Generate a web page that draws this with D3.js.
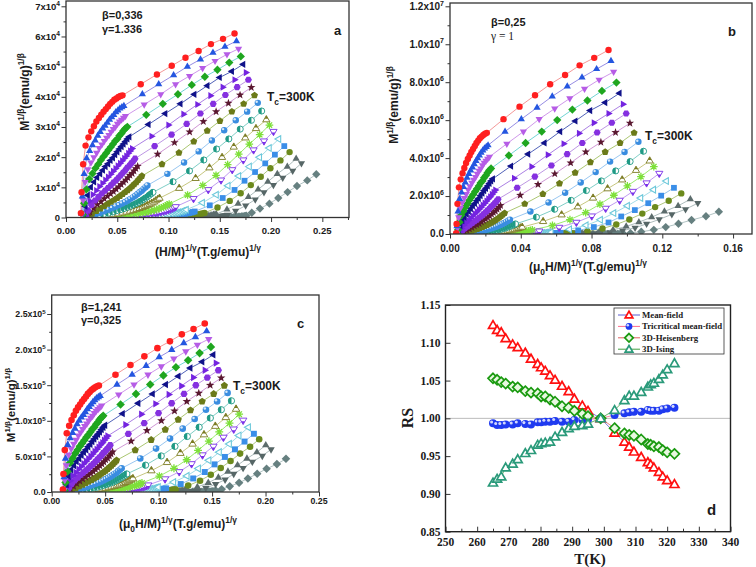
<!DOCTYPE html>
<html><head><meta charset="utf-8">
<script src="https://cdnjs.cloudflare.com/ajax/libs/d3/7.8.5/d3.min.js"></script>
<style>body{margin:0;background:#fff}svg{display:block}</style>
</head><body><svg id="c" width="756" height="567"></svg>
<script>
// ===================== DATA =====================
// Applied field (T) of every isotherm point
const fieldsT = [0.05,0.10,0.15,0.20,0.25,0.30,0.35,0.40,0.45,0.50,0.55,0.60,0.65,0.70,0.75,0.80,0.85,0.90,0.95,1.00,1.5,2.0,2.5,3.0,3.5,4.0,4.5,5.0];
// Magnetization M (emu/g) of each isotherm (low T -> high T)
const M01 = [14.3,27.0,35.5,39.6,41.2,42.3,43.2,44.0,44.6,45.1,45.6,46.0,46.4,46.8,47.1,47.4,47.6,47.8,47.95,48.05,49.6,50.9,52.0,53.0,53.8,54.6,55.2,55.8];
const M02 = [13.6,25.3,33.0,36.9,38.5,39.7,40.6,41.5,42.2,42.8,43.3,43.8,44.3,44.7,45.1,45.5,45.8,46.1,46.3,46.5,48.2,49.6,50.8,51.9,52.8,53.6,54.3,54.95];
const M03 = [12.8,23.6,30.6,34.2,35.9,37.1,38.1,39.1,39.8,40.5,41.1,41.6,42.2,42.7,43.1,43.6,44.0,44.3,44.6,44.9,46.7,48.2,49.6,50.7,51.7,52.6,53.4,54.06];
const M04 = [12.0,21.9,28.1,31.5,33.1,34.5,35.5,36.5,37.3,38.0,38.7,39.3,39.9,40.5,40.9,41.5,41.9,42.4,42.8,43.1,45.1,46.8,48.2,49.5,50.6,51.5,52.4,53.15];
const M05 = [11.3,20.2,25.8,28.9,30.6,32.0,33.0,34.0,34.9,35.6,36.4,37.0,37.7,38.3,38.9,39.4,39.9,40.4,40.9,41.3,43.5,45.3,46.8,48.2,49.4,50.5,51.3,52.19];
const M06 = [10.4,18.4,23.2,26.1,27.7,29.1,30.2,31.2,32.1,32.9,33.7,34.4,35.1,35.7,36.3,36.9,37.4,38.0,38.5,39.0,41.4,43.4,45.2,46.7,48.0,49.2,50.2,51.14];
const M07 = [9.6,16.7,20.9,23.4,25.1,26.5,27.6,28.6,29.5,30.4,31.1,31.9,32.6,33.3,33.9,34.6,35.1,35.7,36.2,36.8,39.5,41.7,43.6,45.3,46.8,48.1,49.2,50.2];
const M08 = [8.9,15.2,18.8,21.2,22.8,24.3,25.4,26.4,27.3,28.2,29.0,29.8,30.5,31.2,31.9,32.6,33.1,33.8,34.4,35.0,37.8,40.2,42.2,44.0,45.6,46.9,48.1,49.16];
const M09 = [8.0,13.5,16.5,18.6,20.2,21.6,22.7,23.7,24.6,25.5,26.3,27.1,27.8,28.5,29.2,29.9,30.5,31.2,31.8,32.4,35.5,38.1,40.4,42.4,44.1,45.6,46.8,48.05];
const M10 = [6.9,11.7,14.3,16.2,17.6,18.9,20.0,20.9,21.8,22.6,23.4,24.2,24.9,25.6,26.3,27.0,27.6,28.3,28.9,29.5,33.0,35.9,38.4,40.6,42.5,44.2,45.6,46.95];
const M11 = [5.9,10.1,12.4,14.1,15.5,16.7,17.6,18.5,19.4,20.2,21.0,21.7,22.4,23.1,23.8,24.5,25.1,25.8,26.4,27.0,30.7,33.8,36.5,38.9,40.9,42.7,44.2,45.7];
const M12 = [5.1,8.6,10.7,12.2,13.4,14.5,15.4,16.3,17.1,17.9,18.6,19.3,20.0,20.7,21.3,22.0,22.6,23.3,23.9,24.5,28.5,31.7,34.6,37.1,39.3,41.1,42.8,44.3];
const M13 = [4.2,7.1,8.9,10.2,11.2,12.2,13.0,13.8,14.5,15.2,15.9,16.6,17.2,17.9,18.5,19.1,19.7,20.3,20.9,21.5,25.9,29.5,32.6,35.4,37.8,39.9,41.7,43.4];
const M14 = [3.6,6.1,7.7,8.9,9.9,10.8,11.5,12.3,13.0,13.7,14.3,15.0,15.6,16.2,16.8,17.4,18.0,18.6,19.2,19.8,24.3,28.0,31.2,34.1,36.5,38.7,40.5,42.27];
const M15 = [2.9,5.0,6.4,7.4,8.3,9.1,9.8,10.4,11.1,11.7,12.3,13.0,13.5,14.1,14.7,15.3,15.8,16.4,17.0,17.5,22.2,26.0,29.4,32.4,34.9,37.1,39.1,40.87];
const M16 = [2.5,4.2,5.4,6.4,7.2,7.9,8.6,9.2,9.8,10.4,11.0,11.6,12.1,12.7,13.3,13.8,14.4,14.9,15.5,16.0,20.7,24.6,27.9,31.0,33.5,35.7,37.7,39.5];
const M17 = [2.0,3.5,4.6,5.4,6.1,6.8,7.4,8.0,8.6,9.1,9.7,10.3,10.8,11.3,11.9,12.4,12.9,13.5,14.0,14.5,19.3,23.2,26.6,29.6,32.2,34.5,36.4,38.25];
const M18 = [1.7,2.9,3.8,4.5,5.2,5.8,6.3,6.9,7.4,8.0,8.5,9.0,9.5,10.0,10.5,11.0,11.5,12.0,12.5,13.0,17.8,21.7,25.1,28.1,30.7,33.0,34.9,36.8];
const M19 = [1.3,2.4,3.1,3.8,4.4,5.0,5.5,6.0,6.5,7.0,7.5,8.0,8.4,8.9,9.4,9.9,10.4,10.8,11.3,11.8,16.6,20.5,23.9,27.0,29.6,31.9,33.8,35.7];
const M20 = [1.03,1.82,2.47,3.04,3.55,4.04,4.50,4.95,5.40,5.84,6.28,6.72,7.15,7.59,8.03,8.46,8.90,9.33,9.77,10.2,14.7,18.5,21.7,24.6,27.1,29.3,31.1,32.9];
const isotherms = [M01,M02,M03,M04,M05,M06,M07,M08,M09,M10,M11,M12,M13,M14,M15,M16,M17,M18,M19,M20];

// Exponents with which each panel's axes M^(1/beta), (H/M)^(1/gamma) were computed
const expA = {beta: 0.365, gamma: 1.336};
const expB = {beta: 0.25, gamma: 1.0};
const expC = {beta: 0.325, gamma: 1.241};

// Tick values and labels
const ticksAX = [0,0.05,0.10,0.15,0.20,0.25];
const ticksAY = [0,1e4,2e4,3e4,4e4,5e4,6e4,7e4];
const labelsAY = [["0",""],["1x10","4"],["2x10","4"],["3x10","4"],["4x10","4"],["5x10","4"],["6x10","4"],["7x10","4"]];
const ticksBX = [0,0.04,0.08,0.12,0.16];
const ticksBY = [0,2e6,4e6,6e6,8e6,1e7,1.2e7];
const labelsBY = [["0.0",""],["2.0x10","6"],["4.0x10","6"],["6.0x10","6"],["8.0x10","6"],["1.0x10","7"],["1.2x10","7"]];
const ticksCX = [0,0.05,0.10,0.15,0.20,0.25];
const ticksCY = [0,5e4,1e5,1.5e5,2e5,2.5e5];
const labelsCY = [["0.0",""],["5.0x10","4"],["1.0x10","5"],["1.5x10","5"],["2.0x10","5"],["2.5x10","5"]];

// Panel d: relative slope RS vs T
const tempK = [265,266.3,267.6,269,271.2,272.8,275.2,277,279.1,280.2,281.5,283,284.6,286.8,288.9,290.7,293.2,295,299,303.4,306.5,308,309.5,311.8,313.9,314.8,315.8,317.4,318.6,320,322.3];
const rsMeanField = [1.1235,1.117,1.114,1.106,1.098,1.094,1.087,1.079,1.072,1.0675,1.063,1.057,1.051,1.043,1.036,1.026,1.017,1.010,1.000,0.981,0.969,0.9625,0.956,0.949,0.942,0.939,0.935,0.929,0.923,0.918,0.913];
const rsTricritical = [0.9934,0.9912,0.9912,0.992,0.992,0.9934,0.9925,0.992,0.9947,0.9947,0.9956,0.9956,0.9965,0.9956,0.9956,0.9978,0.9978,0.9985,1.000,1.0044,1.0066,1.008,1.0088,1.0088,1.011,1.010,1.010,1.010,1.012,1.0132,1.014];
const rsHeisenberg = [1.053,1.051,1.048,1.046,1.042,1.041,1.036,1.034,1.033,1.029,1.029,1.025,1.022,1.016,1.014,1.010,1.006,1.003,1.000,0.987,0.980,0.978,0.977,0.972,0.966,0.965,0.963,0.962,0.958,0.955,0.953];
const rsIsing = [0.915,0.920,0.923,0.935,0.940,0.946,0.954,0.958,0.965,0.967,0.968,0.969,0.976,0.982,0.987,0.990,0.991,0.993,1.000,1.011,1.024,1.030,1.030,1.035,1.042,1.045,1.047,1.052,1.058,1.065,1.073];
const modelNames = ["Mean-field","Tricritical mean-field","3D-Heisenberg","3D-Ising"];
const ticksDX = [250,260,270,280,290,300,310,320,330,340];
const ticksDY = [0.85,0.90,0.95,1.00,1.05,1.10,1.15];

// ===================== STYLES =====================
const isoStyles = [
 {shape:'circle', fill:'#ff1f1f', line:'#f28c8c'},
 {shape:'tri-up', fill:'#2456e0', line:'#8a7fe0'},
 {shape:'tri-down', fill:'#b65ce6', line:'#c98be8'},
 {shape:'diamond', fill:'#1fa61f', line:'#62cfcf'},
 {shape:'tri-left', fill:'#10128a', line:'#3c4fb0'},
 {shape:'tri-right', fill:'#7424e0', line:'#a070e0'},
 {shape:'hexagon', fill:'#8530e0', line:'#b58ae0'},
 {shape:'star', fill:'#5a1830', line:'#c98ad0'},
 {shape:'pentagon', fill:'#6b7a18', line:'#a0c060'},
 {shape:'sphere', fill:'#3a8de0', line:'#8cc0ee'},
 {shape:'half-circle', fill:'#1f9a85', line:'#70c8c0'},
 {shape:'half-tri-up', fill:'#7a7a20', line:'#c0c070'},
 {shape:'asterisk', fill:'#7ee03a', line:'#90e860'},
 {shape:'half-tri-down', fill:'#7a30e8', line:'#b890ee'},
 {shape:'open-tri-left', fill:'#6cc8da', line:'#98d8e4'},
 {shape:'square', fill:'#3a8ee8', line:'#8abce8'},
 {shape:'circle', fill:'#6c8a1c', line:'#a8c070'},
 {shape:'tri-up', fill:'#5c6c6c', line:'#a4b4b4'},
 {shape:'tri-down', fill:'#566666', line:'#a4b4b4'},
 {shape:'diamond', fill:'#668080', line:'#a8bcbc'}
];
const modelStyles = [
 {shape:'open-tri-up', fill:'#ff1010', line:'#5a5ad0'},
 {shape:'sphere', fill:'#1f3af0', line:'#ff6a8a'},
 {shape:'open-diamond', fill:'#1a9a10', line:'#e06060'},
 {shape:'open-tri-up', fill:'#2a9a7a', line:'#40a040'}
];

// ===================== HELPERS =====================
const svg = d3.select('#c');
svg.append('rect').attr('width',756).attr('height',567).attr('fill','#fff');
const defs = svg.append('defs');
const SANS = 'Arial, "Liberation Sans", sans-serif';
const SERIF = '"Times New Roman", "Liberation Serif", serif';

function rich(g, x, y, parts, o) {
  const size = o.size;
  const t = g.append('text').attr('x',x).attr('y',y)
    .attr('font-family', o.family || SANS).attr('font-weight', o.weight || 'bold')
    .attr('font-size', size).attr('text-anchor', o.anchor || 'start').attr('fill', o.color || '#1a1a1a');
  if (o.transform) t.attr('transform', o.transform);
  let shift = 0;
  parts.forEach(p => {
    const s = p[0], kind = p[1];
    if (!s) return;
    const target = kind === 'sup' ? -size*0.42 : kind === 'sub' ? size*0.3 : 0;
    t.append('tspan').attr('dy', target - shift).attr('font-size', kind ? size*0.7 : size).text(s);
    shift = target;
  });
  return t;
}

function poly(n, R, rot) {
  const pts = [];
  for (let k=0;k<n;k++){ const a = rot + k*2*Math.PI/n; pts.push([R*Math.cos(a), R*Math.sin(a)]); }
  return pts;
}
function pts2str(pts, cx, cy){ return pts.map(p=>(cx+p[0]).toFixed(2)+','+(cy+p[1]).toFixed(2)).join(' '); }
const UP = -Math.PI/2;

function marker(g, cx, cy, st, r) {
  const c = st.fill;
  switch (st.shape) {
    case 'circle': g.append('circle').attr('cx',cx).attr('cy',cy).attr('r',r).attr('fill',c); break;
    case 'sphere':
      g.append('circle').attr('cx',cx).attr('cy',cy).attr('r',r).attr('fill',c);
      g.append('circle').attr('cx',cx-r*0.35).attr('cy',cy-r*0.35).attr('r',r*0.38).attr('fill','#fff').attr('opacity',0.8); break;
    case 'tri-up': case 'tri-down': case 'tri-left': case 'tri-right': {
      const rot = {'tri-up':UP,'tri-down':Math.PI/2,'tri-left':Math.PI,'tri-right':0}[st.shape];
      g.append('polygon').attr('points',pts2str(poly(3,r*1.3,rot),cx,cy)).attr('fill',c); break; }
    case 'open-tri-left':
      g.append('polygon').attr('points',pts2str(poly(3,r*1.2,Math.PI),cx,cy)).attr('fill','#fff').attr('stroke',c).attr('stroke-width',1.1); break;
    case 'diamond': g.append('polygon').attr('points',pts2str(poly(4,r*1.3,UP),cx,cy)).attr('fill',c); break;
    case 'square': g.append('rect').attr('x',cx-r*0.9).attr('y',cy-r*0.9).attr('width',r*1.8).attr('height',r*1.8).attr('fill',c); break;
    case 'hexagon': g.append('polygon').attr('points',pts2str(poly(6,r*1.1,0),cx,cy)).attr('fill',c); break;
    case 'pentagon': g.append('polygon').attr('points',pts2str(poly(5,r*1.15,UP),cx,cy)).attr('fill',c); break;
    case 'star': {
      const pts=[]; for(let k=0;k<10;k++){const a=UP+k*Math.PI/5; const R=k%2?r*0.55:r*1.35; pts.push([R*Math.cos(a),R*Math.sin(a)]);}
      g.append('polygon').attr('points',pts2str(pts,cx,cy)).attr('fill',c); break; }
    case 'asterisk': {
      let d=''; for(let k=0;k<4;k++){const a=k*Math.PI/4; const dx=r*1.2*Math.cos(a), dy=r*1.2*Math.sin(a); d+=`M${cx-dx},${cy-dy}L${cx+dx},${cy+dy}`;}
      g.append('path').attr('d',d).attr('stroke',c).attr('stroke-width',1.3); break; }
    case 'half-circle':
      g.append('circle').attr('cx',cx).attr('cy',cy).attr('r',r*0.95).attr('fill','#fff').attr('stroke',c).attr('stroke-width',0.9);
      g.append('path').attr('d',`M${cx},${cy-r}A${r},${r} 0 0 0 ${cx},${cy+r}Z`).attr('fill',c); break;
    case 'half-tri-up': {
      const P = poly(3,r*1.3,UP);
      g.append('polygon').attr('points',pts2str(P,cx,cy)).attr('fill','#fff').attr('stroke',c).attr('stroke-width',0.9);
      const top=P[0], mid=[(P[0][0]+P[1][0])/2,(P[0][1]+P[1][1])/2], mid2=[(P[0][0]+P[2][0])/2,(P[0][1]+P[2][1])/2];
      g.append('polygon').attr('points',pts2str([top,mid,mid2],cx,cy)).attr('fill',c); break; }
    case 'half-tri-down': {
      const P = poly(3,r*1.3,Math.PI/2);
      g.append('polygon').attr('points',pts2str(P,cx,cy)).attr('fill','#fff').attr('stroke',c).attr('stroke-width',0.9);
      const tip=P[0], m1=[(P[0][0]+P[1][0])/2,(P[0][1]+P[1][1])/2], m2=[(P[0][0]+P[2][0])/2,(P[0][1]+P[2][1])/2];
      g.append('polygon').attr('points',pts2str([tip,m1,m2],cx,cy)).attr('fill',c); break; }
    case 'open-tri-up':
      g.append('polygon').attr('points',pts2str(poly(3,r*1.3,UP),cx,cy+r*0.2)).attr('fill','#fff').attr('stroke',c).attr('stroke-width',1.7); break;
    case 'open-diamond':
      g.append('polygon').attr('points',pts2str(poly(4,r*1.25,UP),cx,cy)).attr('fill','#e8f8e0').attr('stroke',c).attr('stroke-width',1.7); break;
  }
}

function styleAxis(sel){ sel.selectAll('line').attr('stroke','#333').attr('stroke-width',1); sel.select('.domain').remove(); }

// ===================== ARROTT PANELS =====================
function drawArrott(p) {
  const g = svg.append('g');
  const x = d3.scaleLinear().domain(p.xDomain).range(p.xRange);
  const y = d3.scaleLinear().domain(p.yDomain).range(p.yRange);
  const x0=p.xRange[0], x1=p.xRange[1], y0=p.yRange[0], yt=p.top;
  defs.append('clipPath').attr('id','clip'+p.key).append('rect')
    .attr('x',x0).attr('y',yt).attr('width',x1-x0).attr('height',y0-yt);
  const curves = isotherms.map(Ms => fieldsT.map((h,k) => ({
    x: Math.pow(h/Ms[k], 1/p.exp.gamma), y: Math.pow(Ms[k], 1/p.exp.beta)})));
  const plot = g.append('g').attr('clip-path',`url(#clip${p.key})`);
  const line = d3.line().x(d=>x(d.x)).y(d=>y(d.y));
  for (let i=curves.length-1;i>=0;i--)
    plot.append('path').attr('d',line(curves[i])).attr('fill','none').attr('stroke',isoStyles[i].line).attr('stroke-width',0.9);
  for (let i=curves.length-1;i>=0;i--)
    curves[i].forEach(d => marker(plot, x(d.x), y(d.y), isoStyles[i], p.ms));
  // ticks
  g.append('g').attr('transform',`translate(0,${y0})`).call(d3.axisBottom(x).tickValues(p.xMinor).tickSize(2.5).tickFormat('')).call(styleAxis);
  g.append('g').attr('transform',`translate(0,${y0})`).call(d3.axisBottom(x).tickValues(p.xTicks).tickSize(4.5).tickFormat('')).call(styleAxis);
  g.append('g').attr('transform',`translate(${x0},0)`).call(d3.axisLeft(y).tickValues(p.yMinor).tickSize(2.5).tickFormat('')).call(styleAxis);
  g.append('g').attr('transform',`translate(${x0},0)`).call(d3.axisLeft(y).tickValues(p.yTicks).tickSize(4.5).tickFormat('')).call(styleAxis);
  g.append('rect').attr('x',x0).attr('y',yt).attr('width',x1-x0).attr('height',y0-yt)
    .attr('fill','none').attr('stroke','#333').attr('stroke-width',1.3);
  // tick labels
  p.xTicks.forEach(v => rich(g, x(v), p.xLabY, [[v.toFixed(2)]], {size:p.tickSize, anchor:'middle'}));
  p.yTicks.forEach((v,i) => rich(g, x0-6, y(v)+3.4, [[p.yLabels[i][0]],[p.yLabels[i][1],'sup']], {size:p.tickSize, anchor:'end'}));
  // annotations
  rich(g, p.betaPos[0], p.betaPos[1], [[p.betaText]], {size:11});
  rich(g, p.gammaPos[0], p.gammaPos[1], [[p.gammaText]], p.gammaSerif ? {size:11.5, family:SERIF, weight:'normal'} : {size:11});
  rich(g, p.letterPos[0], p.letterPos[1], [[p.key]], {size:13});
  rich(g, p.tcPos[0], p.tcPos[1], [['T'],['c','sub'],['=300K']], {size:12});
  rich(g, 0, 0, [['M'],['1/β','sup'],['(emu/g)'],['1/β','sup']], {size:p.titleSize, anchor:'middle',
     transform:`translate(${p.yTitle[0]},${p.yTitle[1]}) rotate(-90)`});
  rich(g, p.xTitle[0], p.xTitle[1], p.xTitleParts, {size:12, anchor:'middle'});
}

drawArrott({key:'a', exp:expA, xDomain:[0,0.276], xRange:[66,349], yDomain:[0,7e4], yRange:[217.5,6.3], top:1,
  xTicks:ticksAX, xMinor:d3.range(0.025,0.276,0.05), yTicks:ticksAY, yMinor:d3.range(5e3,7e4,1e4), yLabels:labelsAY,
  xLabY:234, ms:3.2, tickSize:9.5, titleSize:12, betaText:'β=0,336', gammaText:'γ=1.336', betaPos:[102,19], gammaPos:[102,33],
  letterPos:[334,35], tcPos:[267,101], yTitle:[29,92], xTitle:[208,256],
  xTitleParts:[['(H/M)'],['1/γ','sup'],['(T.g/emu)'],['1/γ','sup']]});

drawArrott({key:'b', exp:expB, xDomain:[0,0.1707], xRange:[450,752], yDomain:[0,1.2e7], yRange:[234,6.3], top:3,
  xTicks:ticksBX, xMinor:d3.range(0.02,0.17,0.04), yTicks:ticksBY, yMinor:d3.range(1e6,1.2e7,2e6), yLabels:labelsBY,
  xLabY:252, ms:3.2, tickSize:10, titleSize:12, betaText:'β=0,25', gammaText:'γ = 1', gammaSerif:true, betaPos:[491,26], gammaPos:[491,40],
  letterPos:[728,36], tcPos:[645,140], yTitle:[398,105], xTitle:[588,271],
  xTitleParts:[['(μ'],['0','sub'],['H/M)'],['1/γ','sup'],['(T.g/emu)'],['1/γ','sup']]});

drawArrott({key:'c', exp:expC, xDomain:[0,0.25], xRange:[51.7,319], yDomain:[0,2.5e5], yRange:[492,314], top:295,
  xTicks:ticksCX, xMinor:d3.range(0.025,0.25,0.05), yTicks:ticksCY, yMinor:d3.range(2.5e4,2.75e5,5e4), yLabels:labelsCY,
  xLabY:504, ms:3.3, tickSize:8.8, titleSize:11.5, betaText:'β=1,241', gammaText:'γ=0,325', betaPos:[81,311], gammaPos:[81,324],
  letterPos:[297,328], tcPos:[233,390], yTitle:[15,405], xTitle:[178,528],
  xTitleParts:[['(μ'],['0','sub'],['H/M)'],['1/γ','sup'],['(T.g/emu)'],['1/γ','sup']]});

// ===================== PANEL D =====================
(function(){
  const g = svg.append('g');
  const x = d3.scaleLinear().domain([250,340]).range([445.5,730.5]);
  const y = d3.scaleLinear().domain([0.85,1.15]).range([531.7,305]);
  const x0=445.5,x1=730.5,y0=531.7,yt=305;
  g.append('line').attr('x1',x0).attr('x2',x1).attr('y1',y(1)).attr('y2',y(1)).attr('stroke','#aaa').attr('stroke-width',0.8);
  const series = [rsMeanField, rsTricritical, rsHeisenberg, rsIsing];
  const line = d3.line().x((d,i)=>x(tempK[i])).y(d=>y(d));
  series.forEach((s,j)=> g.append('path').attr('d',line(s)).attr('fill','none').attr('stroke',modelStyles[j].line).attr('stroke-width',0.8));
  series.forEach((s,j)=> s.forEach((v,i)=> marker(g, x(tempK[i]), y(v), modelStyles[j], 4)));
  // axes (inward ticks)
  g.append('g').attr('transform',`translate(0,${y0})`).call(d3.axisBottom(x).tickValues(d3.range(255,340,10)).tickSize(-3).tickFormat('')).call(styleAxis);
  g.append('g').attr('transform',`translate(0,${y0})`).call(d3.axisBottom(x).tickValues(ticksDX).tickSize(-5).tickFormat('')).call(styleAxis);
  g.append('g').attr('transform',`translate(${x0},0)`).call(d3.axisLeft(y).tickValues(ticksDY).tickSize(-5).tickFormat('')).call(styleAxis);
  g.append('rect').attr('x',x0).attr('y',yt).attr('width',x1-x0).attr('height',y0-yt).attr('fill','none').attr('stroke','#222').attr('stroke-width',1.4);
  ticksDX.forEach(v => rich(g, x(v), 545.5, [[String(v)]], {size:11.5, family:SERIF, anchor:'middle'}));
  ticksDY.forEach(v => rich(g, x0-5, y(v)+4, [[v.toFixed(2)]], {size:11.5, family:SERIF, anchor:'end'}));
  rich(g, 0, 0, [['RS']], {size:16, family:SERIF, anchor:'middle', transform:'translate(413,418) rotate(-90)'});
  rich(g, 590, 564, [['T(K)']], {size:15, family:SERIF, anchor:'middle'});
  rich(g, 707, 515, [['d']], {size:15});
  // legend
  const lg = g.append('g');
  lg.append('rect').attr('x',614).attr('y',308).attr('width',110).attr('height',46).attr('fill','#fff').attr('stroke','#333').attr('stroke-width',0.8);
  modelNames.forEach((n,j)=>{
    const ly = 315 + j*11.4;
    lg.append('line').attr('x1',618).attr('x2',640).attr('y1',ly).attr('y2',ly).attr('stroke',modelStyles[j].line).attr('stroke-width',1);
    marker(lg, 629, ly, modelStyles[j], 3.4);
    rich(lg, 642, ly+3, [[n]], {size:8.8, family:SERIF});
  });
})();
</script></body></html>
